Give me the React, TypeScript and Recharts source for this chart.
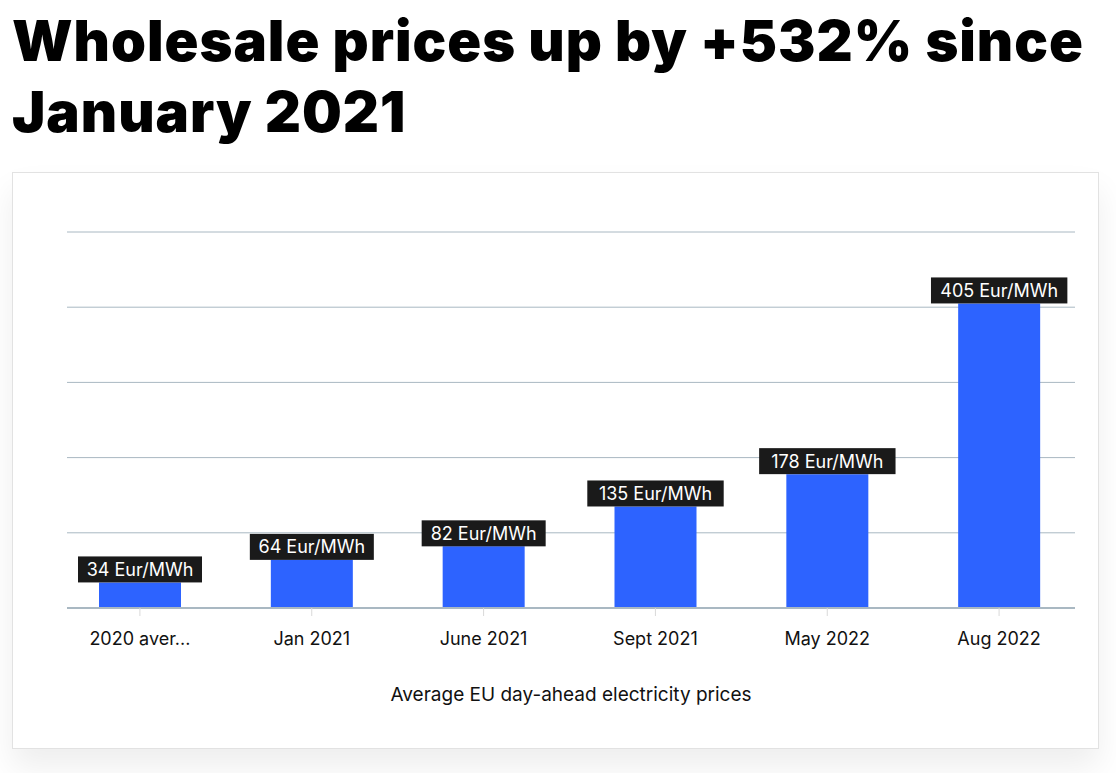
import React from "react";
import { BarChart, Bar, XAxis, YAxis, CartesianGrid, LabelList } from "recharts";

const categories = ["2020 average", "Jan 2021", "June 2021", "Sept 2021", "May 2022", "Aug 2022"];
const prices = [34, 64, 82, 135, 178, 405];
const yTicks = [0, 100, 200, 300, 400, 500];

const data = categories.map((name, i) => ({ name, price: prices[i] }));

const FONT = "Inter, 'Noto Sans', sans-serif";
const BAR_COLOR = "#2d63ff";
const GRID_COLOR = "#a9b8c2";

function shortName(v: string): string {
  return v.length > 10 ? `${v.slice(0, 9)}...` : v;
}

const PriceLabel = (props: any) => {
  const { x, y, width, value } = props;
  const text = `${value} Eur/MWh`;
  const w = text.length * 12.4;
  const h = 26;
  const cx = x + width / 2;
  return (
    <g>
      <rect x={cx - w / 2} y={y - h} width={w} height={h} fill="#1a1a1a" />
      <text
        x={cx}
        y={y - h / 2}
        fill="#ffffff"
        fontSize={18}
        fontFamily={FONT}
        textAnchor="middle"
        dominantBaseline="central"
      >
        {text}
      </text>
    </g>
  );
};

export default function App() {
  return (
    <div style={{ position: "absolute", left: 0, top: 0, width: 1116, height: 773, background: "#fff" }}>
      <div
        style={{
          position: "absolute",
          left: 12,
          top: 6,
          fontFamily: FONT,
          fontWeight: 900,
          fontSize: 56,
          lineHeight: "71px",
          color: "#000",
          letterSpacing: 1,
          width: 1100,
        }}
      >
        Wholesale prices up by +532% since
        <br />
        January 2021
      </div>
      <div
        style={{
          position: "absolute",
          left: 12,
          top: 172,
          width: 1085,
          height: 575,
          border: "1px solid #e2e2e2",
          background: "#fff",
          boxShadow: "0 18px 30px rgba(0,0,0,0.07)",
        }}
      >
        <BarChart
          width={1085}
          height={575}
          data={data}
          margin={{ top: 59, right: 23, left: 54, bottom: 0 }}
        >
          <CartesianGrid vertical={false} stroke={GRID_COLOR} strokeWidth={1} />
          <YAxis hide domain={[0, 500]} ticks={yTicks} />
          <XAxis
            dataKey="name"
            height={140}
            padding={{ left: -13, right: -10 }}
            axisLine={{ stroke: GRID_COLOR, strokeWidth: 2 }}
            tickLine={{ stroke: "#d9d9d9" }}
            tickSize={8}
            tickMargin={16}
            tickFormatter={shortName}
            tick={{ fill: "#111", fontSize: 18, fontFamily: FONT }}
            interval={0}
            label={{
              value: "Average EU day-ahead electricity prices",
              position: "insideBottom",
              offset: 47,
              fill: "#111",
              fontSize: 19,
              fontFamily: FONT,
            }}
          />
          <Bar dataKey="price" fill={BAR_COLOR} barSize={82} isAnimationActive={false}>
            <LabelList dataKey="price" content={PriceLabel} />
          </Bar>
        </BarChart>
      </div>
    </div>
  );
}
